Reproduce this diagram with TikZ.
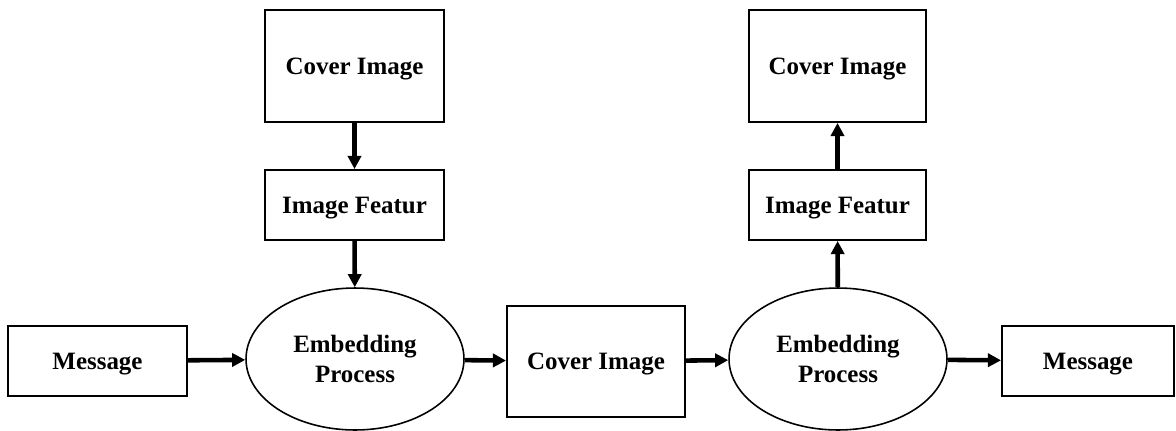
\documentclass[tikz,border=0pt]{standalone}
\usepackage{fontspec}
\setmainfont{Liberation Serif}
\usepackage{tikz}
\usetikzlibrary{arrows.meta,shapes.geometric,positioning}
\tikzstyle{box}  = [rectangle, draw=black, line width=1.1pt, align=center, inner sep=0pt, text depth=0pt, font=\fontsize{14.2}{17}\selectfont\bfseries]
\tikzstyle{oval} = [ellipse, draw=black, line width=0.9pt, align=center, inner sep=0pt, text depth=0pt, minimum width=4.36cm, minimum height=2.84cm, font=\fontsize{14.2}{17}\selectfont\bfseries]
\tikzstyle{flow} = [-{Triangle[length=7.5pt,width=7.5pt]}, line width=2.6pt]

\begin{document}
\begin{tikzpicture}[x=0.02cm, y=-0.02cm]
		\useasboundingbox (0,0) rectangle (1176,430);

		% left half
		\node[box, minimum width=3.58cm, minimum height=2.24cm] (covA) at (354.5,66) {Cover Image};
		\node[box, minimum width=3.58cm, minimum height=1.40cm] (featA) at (354.5,205) {Image Featur};
		\node[oval] (embA) at (355,359) {Embedding\\Process};
		\node[box, minimum width=3.58cm, minimum height=1.40cm] (msgA) at (97.5,361) {Message};

		% middle
		\node[box, minimum width=3.56cm, minimum height=2.22cm] (covB) at (596,361.5) {Cover Image};

		% right half
		\node[oval] (embB) at (838,359) {Embedding\\Process};
		\node[box, minimum width=3.54cm, minimum height=1.40cm] (featB) at (837.5,205) {Image Featur};
		\node[box, minimum width=3.54cm, minimum height=2.24cm] (covC) at (837.5,66) {Cover Image};
		\node[box, minimum width=3.44cm, minimum height=1.40cm] (msgB) at (1088,361) {Message};

		\draw[flow] (covA) -- (featA);
		\draw[flow] (featA) -- (embA);
		\draw[flow] (msgA) -- (embA);
		\draw[flow] (embA) -- (covB);
		\draw[flow] (covB) -- (embB);
		\draw[flow] (embB) -- (msgB);
		\draw[flow] (embB) -- (featB);
		\draw[flow] (featB) -- (covC);
	\end{tikzpicture}
\end{document}
